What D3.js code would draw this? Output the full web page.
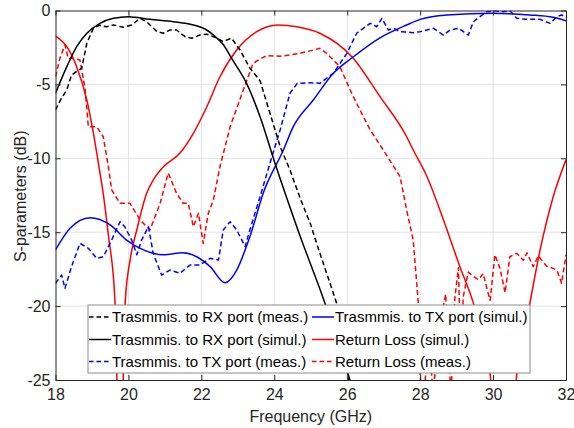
<!DOCTYPE html>
<html><head><meta charset="utf-8">
<script src="https://cdn.jsdelivr.net/npm/d3@7"></script>
<style>
html,body{margin:0;padding:0;background:#fff;}
svg{display:block;font-family:"Liberation Sans",Arial,sans-serif;}
</style></head>
<body><svg id="c" width="574" height="428"></svg>
<script>
// ---- data ----
const xTicks = [18,20,22,24,26,28,30,32];
const yTicks = [0,-5,-10,-15,-20,-25];
const xLabel = "Frequency (GHz)";
const yLabel = "S-parameters (dB)";

const rxMeasF = [18,18.15,18.31,18.44,18.72,18.86,19.04,19.2,19.4,19.6,19.86,20.09,20.32,20.5,20.78,20.96,21.14,21.32,21.55,21.74,21.96,22.15,22.33,22.6,22.74,22.83,23.06,23.33,23.61,23.9,24.16,24.43,24.71,25.0,25.16,25.71,26.05];
const rxMeasDb = [-6.73,-6.0,-5.38,-4.36,-3.9,-2.2,-1.2,-1.0,-1.1,-0.98,-1.14,-0.98,-0.53,-0.76,-1.43,-1.54,-1.32,-1.32,-1.77,-1.88,-1.66,-1.6,-1.77,-2.1,-1.95,-1.88,-2.67,-3.9,-4.75,-7.1,-9.2,-10.79,-12.7,-14.5,-15.75,-19.8,-25.2];

const rxSimF = [18,18.31,18.58,18.86,19.22,19.59,20.0,20.59,21.23,21.78,22.1,22.33,22.6,22.83,23.24,23.61,24.02,24.68,25.39,26.1];
const rxSimDb = [-5.6,-3.8,-2.45,-1.54,-0.87,-0.53,-0.42,-0.6,-0.76,-0.98,-1.25,-1.66,-2.3,-3.24,-4.93,-7.19,-10.34,-15.07,-19.8,-25.2];

const txMeasF = [18,18.17,18.26,18.44,18.67,18.9,19.13,19.31,19.54,19.77,19.9,20.09,20.23,20.36,20.55,20.68,20.91,21.14,21.41,21.69,21.96,22.24,22.47,22.6,22.79,22.97,23.2,23.33,23.61,23.88,24.16,24.43,24.63,24.98,25.25,25.62,25.99,26.26,26.63,26.81,26.95,27.13,27.27,27.45,27.81,28.0,28.36,28.64,28.82,29.05,29.32,29.46,29.64,29.82,30.05,30.28,30.46,30.65,30.93,31.29,31.56,31.75,31.88,32];
const txMeasDb = [-18.46,-17.9,-18.8,-17.33,-15.75,-16.09,-16.77,-16.66,-15.53,-14.29,-14.63,-15.53,-16.53,-15.53,-14.63,-16.43,-17.9,-17.56,-17.78,-17.22,-17.22,-16.77,-16.88,-14.85,-14.29,-14.85,-15.98,-14.85,-12.6,-10.34,-8.08,-5.6,-4.93,-4.88,-4.93,-4.25,-2.9,-1.54,-0.87,-1.1,-0.53,-1.32,-1.2,-1.43,-1.5,-1.43,-1.2,-1.66,-1.32,-1.2,-1.66,-0.76,-0.42,-0.08,-0.01,-0.08,0,-0.53,-0.6,-0.6,-0.87,-0.42,-0.3,-0.46];

const txSimF = [18,18.4,18.95,19.5,19.95,20.41,20.96,21.5,21.87,22.24,22.65,22.97,23.33,23.72,24.25,24.52,25.07,25.62,26.17,26.9,27.63,28.0,28.73,30.0,31.0,31.65,32];
const txSimDb = [-16.2,-14.74,-14.02,-14.51,-15.53,-16.2,-16.53,-16.39,-16.66,-17.33,-18.42,-17.56,-15.3,-12.2,-9.44,-7.86,-6.06,-4.25,-3.13,-1.85,-0.98,-0.6,-0.3,-0.19,-0.3,-0.46,-0.69];

const rlSimF = [18,18.31,18.58,18.86,19.04,19.22,19.31,19.45,19.63,19.77,19.91,20.05,20.23,20.5,20.68,20.96,21.41,21.78,22.15,22.51,22.97,23.52,24.1,24.62,25.25,26.17,26.9,27.63,27.81,28.18,28.64,29.09,29.46,29.92,30.28,30.65,31.01,31.29,31.65,32];
const rlSimDb = [-1.73,-2.45,-3.8,-6.06,-8.31,-11.0,-12.4,-15.2,-19.6,-33,-19.8,-16.8,-14.85,-12.37,-11.47,-10.57,-9.66,-8.31,-6.51,-4.48,-2.67,-1.43,-0.98,-1.1,-1.54,-3.24,-5.83,-8.54,-9.44,-11.2,-14.17,-17.33,-19.8,-24.6,-38,-24.6,-19.8,-16.2,-12.6,-10.1];

const rlMeasF = [18,18.12,18.26,18.35,18.49,18.67,18.81,18.9,19.13,19.31,19.45,19.54,19.77,20.04,20.32,20.59,20.87,21.09,21.32,21.5,21.64,21.78,21.92,22.05,22.19,22.33,22.51,22.79,23.15,23.42,23.6,23.79,24.16,24.71,25.25,25.44,25.8,26.08,26.35,26.63,26.99,27.45,27.63,27.81,27.95,28.02,28.12,28.25,28.35,28.55,28.7,28.77,28.85,28.95,29.05,29.12,29.18,29.32,29.41,29.59,29.73,29.85,29.92,30.05,30.19,30.33,30.46,30.65,30.83,30.93,31.1,31.24,31.47,31.6,31.75,31.88,32];
const rlMeasDb = [-4.48,-3.24,-2.33,-3.24,-3.24,-3.35,-5.26,-7.86,-7.86,-8.54,-10.57,-12.14,-13.04,-13.04,-14.17,-14.85,-13.04,-11.0,-12.37,-13.04,-13.04,-14.63,-13.72,-15.75,-13.72,-12.82,-10.57,-7.86,-5.38,-3.57,-3.3,-3.05,-3.1,-2.9,-2.56,-2.9,-3.8,-5.38,-6.73,-8.08,-9.44,-11.24,-13.5,-15.53,-19.8,-26,-25.5,-22,-26,-21,-19.2,-23,-26,-19.5,-17.4,-24,-19.4,-17.7,-17.9,-18.2,-17.8,-19,-19.6,-16.53,-17.45,-19.1,-16.66,-16.43,-16.9,-16.4,-17.33,-16.6,-17.3,-17.4,-17.56,-18.46,-16.53];

const seriesNames = ["Trasmmis. to RX port (meas.)","Trasmmis. to RX port (simul.)","Trasmmis. to TX port (meas.)","Trasmmis. to TX port (simul.)","Return Loss (simul.)","Return Loss (meas.)"];

// ---- drawing ----
const svg = d3.select("#c");
const L=55.5, R=566, T=10.5, B=380;
const x = d3.scaleLinear().domain([18,32]).range([L,R]);
const y = d3.scaleLinear().domain([-25,0]).range([B,T]);
const axisCol = "#262626";
const gridCol = "#e3e3e3";

// grid
svg.append("g").selectAll("line.gx").data(xTicks.slice(1,-1)).join("line")
  .attr("x1",d=>x(d)).attr("x2",d=>x(d)).attr("y1",T).attr("y2",B)
  .attr("stroke",gridCol).attr("stroke-width",1);
svg.append("g").selectAll("line.gy").data(yTicks.slice(1,-1)).join("line")
  .attr("y1",d=>y(d)).attr("y2",d=>y(d)).attr("x1",L).attr("x2",R)
  .attr("stroke",gridCol).attr("stroke-width",1);

svg.append("defs").append("clipPath").attr("id","clip").append("rect")
  .attr("x",L).attr("y",T).attr("width",R-L).attr("height",B-T);

const plot = svg.append("g").attr("clip-path","url(#clip)");
function draw(F,D,color,dashed,curve){
  const pts = F.map((f,i)=>[f,D[i]]);
  const line = d3.line().x(d=>x(d[0])).y(d=>y(d[1])).curve(curve);
  plot.append("path").attr("d",line(pts)).attr("fill","none")
    .attr("stroke",color).attr("stroke-width",1.5)
    .attr("stroke-dasharray",dashed?"5,3":null).attr("stroke-linejoin","round");
}
const blue="#0000ff", red="#ff0000", black="#000000";
draw(rlSimF,rlSimDb,red,false,d3.curveMonotoneX);
draw(rlMeasF,rlMeasDb,red,true,d3.curveLinear);
draw(txSimF,txSimDb,blue,false,d3.curveMonotoneX);
draw(txMeasF,txMeasDb,blue,true,d3.curveLinear);
draw(rxSimF,rxSimDb,black,false,d3.curveMonotoneX);
draw(rxMeasF,rxMeasDb,black,true,d3.curveLinear);

// axes
const fmt = d=>String(d);
const gx = svg.append("g").attr("transform",`translate(0,${B})`)
  .call(d3.axisBottom(x).tickValues(xTicks).tickSizeInner(-5).tickSizeOuter(0).tickPadding(9).tickFormat(fmt));
const gy = svg.append("g").attr("transform",`translate(${L},0)`)
  .call(d3.axisLeft(y).tickValues(yTicks).tickSizeInner(-5).tickSizeOuter(0).tickPadding(5).tickFormat(fmt));
const gt = svg.append("g").attr("transform",`translate(0,${T})`)
  .call(d3.axisTop(x).tickValues(xTicks).tickSizeInner(-5).tickSizeOuter(0).tickFormat(""));
const gr = svg.append("g").attr("transform",`translate(${R},0)`)
  .call(d3.axisRight(y).tickValues(yTicks).tickSizeInner(-5).tickSizeOuter(0).tickFormat(""));
[gx,gy,gt,gr].forEach(g=>{
  g.selectAll("path.domain").attr("stroke",axisCol).attr("stroke-width",1);
  g.selectAll(".tick line").attr("stroke",axisCol).attr("stroke-width",1);
  g.selectAll("text").attr("fill",axisCol).style("font-size","16px").style("font-family","'Liberation Sans',Arial,sans-serif");
});

svg.append("text").attr("x",(L+R)/2).attr("y",422).attr("text-anchor","middle")
  .attr("fill",axisCol).style("font-size","16px").text(xLabel);
svg.append("text").attr("transform",`translate(25.5,${(T+B)/2+1}) rotate(-90)`).attr("text-anchor","middle")
  .attr("fill",axisCol).style("font-size","16px").text(yLabel);

// legend
const lg = svg.append("g");
lg.append("rect").attr("x",88).attr("y",305).attr("width",442).attr("height",68)
  .attr("fill","#fff").attr("stroke","#8c8c8c").attr("stroke-width",1);
const legItems = [
  {name:seriesNames[0],color:black,dashed:true,col:0,row:0},
  {name:seriesNames[1],color:black,dashed:false,col:0,row:1},
  {name:seriesNames[2],color:blue,dashed:true,col:0,row:2},
  {name:seriesNames[3],color:blue,dashed:false,col:1,row:0},
  {name:seriesNames[4],color:red,dashed:false,col:1,row:1},
  {name:seriesNames[5],color:red,dashed:true,col:1,row:2}
];
const colX=[89,312], rowY=[317,339.5,361.5];
legItems.forEach(it=>{
  const x0=colX[it.col], yy=rowY[it.row];
  lg.append("line").attr("x1",x0).attr("x2",x0+22).attr("y1",yy).attr("y2",yy)
    .attr("stroke",it.color).attr("stroke-width",1.5).attr("stroke-dasharray",it.dashed?"4.5,3":null);
  lg.append("text").attr("x",x0+23).attr("y",yy).attr("dy","0.35em")
    .attr("fill","#000").style("font-size","15px").text(it.name);
});
</script></body></html>
